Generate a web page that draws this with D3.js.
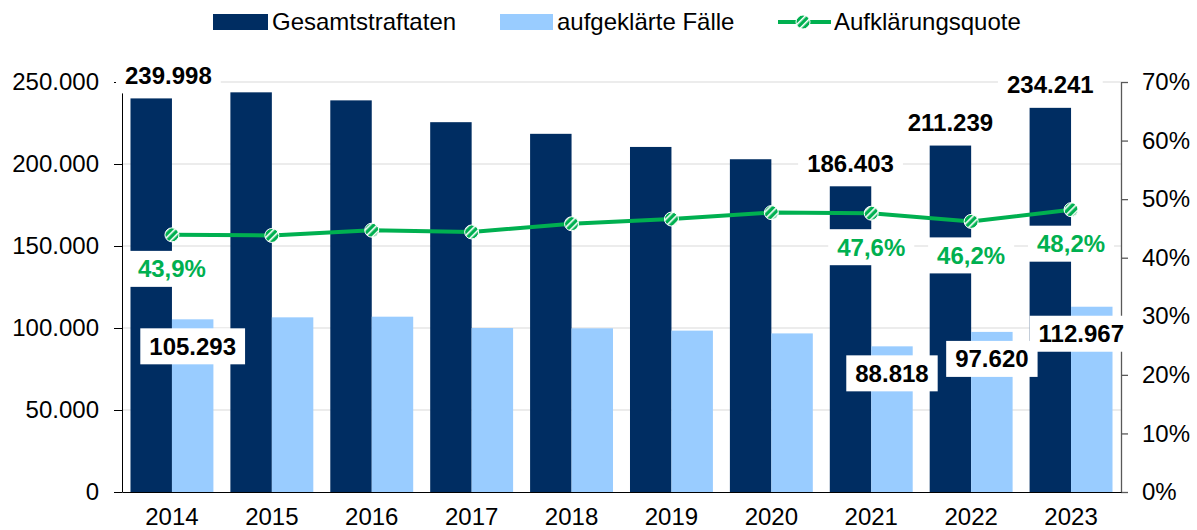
<!DOCTYPE html>
<html>
<head>
<meta charset="utf-8">
<script src="https://cdn.jsdelivr.net/npm/d3@7"></script>
<style>
  body { margin: 0; background: #fff; }
  svg { display: block; font-family: "Liberation Sans", Arial, sans-serif; }
</style>
</head>
<body>
<svg id="chart" width="1197" height="530"></svg>
<script>
// values
const years = [2014, 2015, 2016, 2017, 2018, 2019, 2020, 2021, 2022, 2023];
const totalCases = [239998, 243700, 238800, 225500, 218400, 210400, 202900, 186403, 211239, 234241];
const solvedCases = [105293, 106500, 106900, 100000, 99800, 98400, 96700, 88818, 97620, 112967];
const clearanceRate = [0.439, 0.438, 0.447, 0.444, 0.458, 0.466, 0.477, 0.476, 0.462, 0.482];
const labeledYears = [2014, 2021, 2022, 2023];
const leftTicks = [0, 50000, 100000, 150000, 200000, 250000];
const rightTicks = [0, 0.1, 0.2, 0.3, 0.4, 0.5, 0.6, 0.7];
const seriesNames = ['Gesamtstraftaten', 'aufgeklärte Fälle', 'Aufklärungsquote'];

const NAVY = '#002d62', LIGHT = '#99ccff', GREEN = '#00b050';
const FS = 24;

const de = d3.formatLocale({decimal: ',', thousands: '.', grouping: [3], currency: ['', ' €']});
const fmtNum = de.format(',');
const fmtPct = de.format('.0%');
const fmtRate = de.format('.1%');

const data = years.map((y, i) => ({year: y, total: totalCases[i], solved: solvedCases[i], rate: clearanceRate[i]}));

const svg = d3.select('#chart');
const plot = {left: 122, right: 1121, top: 82, bottom: 492};

const x0 = d3.scaleBand().domain(years).range([plot.left, plot.right]).paddingInner(0.17).paddingOuter(0.085);
const x1 = d3.scaleBand().domain(['total', 'solved']).range([0, x0.bandwidth()]);
const yL = d3.scaleLinear().domain([0, 250000]).range([plot.bottom, plot.top]);
const yR = d3.scaleLinear().domain([0, 0.7]).range([plot.bottom, plot.top]);
const cx = d => x0(d.year) + x0.bandwidth() / 2;

// hatch pattern for the markers
const defs = svg.append('defs');
defs.append('pattern')
  .attr('id', 'hatch').attr('patternUnits', 'userSpaceOnUse')
  .attr('width', 5).attr('height', 5)
  .attr('patternTransform', 'rotate(45)')
  .call(p => {
    p.append('rect').attr('width', 5).attr('height', 5).attr('fill', GREEN);
    p.append('rect').attr('x', 0).attr('width', 1.6).attr('height', 5).attr('fill', '#fff');
  });

// gridlines
svg.append('g').selectAll('line').data(leftTicks.filter(t => t > 0)).join('line')
  .attr('x1', plot.left).attr('x2', plot.right)
  .attr('y1', d => yL(d)).attr('y2', d => yL(d))
  .attr('stroke', '#d9d9d9').attr('stroke-width', 1);

// bars
const groups = svg.append('g').selectAll('g').data(data).join('g')
  .attr('transform', d => `translate(${x0(d.year)},0)`);
groups.append('rect')
  .attr('x', x1('total')).attr('width', x1.bandwidth())
  .attr('y', d => yL(d.total)).attr('height', d => plot.bottom - yL(d.total))
  .attr('fill', NAVY);
groups.append('rect')
  .attr('x', x1('solved')).attr('width', x1.bandwidth())
  .attr('y', d => yL(d.solved)).attr('height', d => plot.bottom - yL(d.solved))
  .attr('fill', LIGHT);

// axes
const axL = svg.append('g').attr('transform', `translate(${plot.left},0)`)
  .call(d3.axisLeft(yL).tickValues(leftTicks).tickFormat(fmtNum).tickSize(8).tickSizeOuter(0).tickPadding(15));
axL.selectAll('text').attr('font-size', FS).attr('fill', '#000');
axL.selectAll('line,path').attr('stroke', '#000');

const axR = svg.append('g').attr('transform', `translate(${plot.right},0)`)
  .call(d3.axisRight(yR).tickValues(rightTicks).tickFormat(fmtPct).tickSize(7).tickSizeOuter(0).tickPadding(14));
axR.selectAll('text').attr('font-size', FS).attr('fill', '#000');
axR.selectAll('line,path').attr('stroke', '#595959').attr('stroke-width', 1.3);

const axB = svg.append('g').attr('transform', `translate(0,${plot.bottom})`)
  .call(d3.axisBottom(x0).tickSize(0).tickSizeOuter(0).tickPadding(16));
axB.selectAll('text').attr('font-size', FS).attr('fill', '#000');
axB.select('path').attr('stroke', '#000');

// clearance rate line
const line = d3.line().x(cx).y(d => yR(d.rate));
svg.append('path').datum(data)
  .attr('d', line).attr('fill', 'none')
  .attr('stroke', GREEN).attr('stroke-width', 4);
svg.append('g').selectAll('circle').data(data).join('circle')
  .attr('cx', cx).attr('cy', d => yR(d.rate)).attr('r', 7)
  .attr('fill', 'url(#hatch)').attr('stroke', '#fff').attr('stroke-width', 1);

// data labels with white boxes, kept near the plot area
const labelLayer = svg.append('g');
function addLabel(x, y, txt, color) {
  const g = labelLayer.append('g');
  const t = g.append('text').text(txt)
    .attr('font-size', FS).attr('font-weight', 'bold').attr('fill', color)
    .attr('text-anchor', 'middle').attr('dy', '0.35em');
  const w = t.node().getComputedTextLength() + 18;
  let px = Math.min(x, plot.right + 12 - w / 2);
  px = Math.max(px, plot.left - 6 + w / 2);
  t.attr('x', px).attr('y', y);
  g.insert('rect', 'text')
    .attr('x', px - w / 2).attr('y', y - 18).attr('width', w).attr('height', 36)
    .attr('fill', '#fff');
}
data.filter(d => labeledYears.includes(d.year)).forEach(d => {
  addLabel(x0(d.year) + x1('total') + x1.bandwidth() / 2, yL(d.total) - 23, fmtNum(d.total), '#000');
  addLabel(cx(d), yR(d.rate) + 34, fmtRate(d.rate), GREEN);
  addLabel(x0(d.year) + x1('solved') + x1.bandwidth() / 2, yL(d.solved) + 27, fmtNum(d.solved), '#000');
});

// legend
const legend = svg.append('g').attr('font-size', FS);
const legendX = [213, 500, 778];
legend.append('rect').attr('x', legendX[0]).attr('y', 14).attr('width', 55).attr('height', 16).attr('fill', NAVY);
legend.append('rect').attr('x', legendX[1]).attr('y', 14).attr('width', 53).attr('height', 16).attr('fill', LIGHT);
legend.append('line').attr('x1', legendX[2]).attr('x2', legendX[2] + 53).attr('y1', 22).attr('y2', 22)
  .attr('stroke', GREEN).attr('stroke-width', 4);
legend.append('circle').attr('cx', legendX[2] + 25).attr('cy', 22).attr('r', 7)
  .attr('fill', 'url(#hatch)').attr('stroke', '#fff').attr('stroke-width', 1);
legend.selectAll('text').data(seriesNames).join('text')
  .attr('x', (d, i) => legendX[i] + [59, 57, 56][i]).attr('y', 22).attr('dy', '0.35em')
  .attr('fill', '#000').text(d => d);
</script>
</body>
</html>
